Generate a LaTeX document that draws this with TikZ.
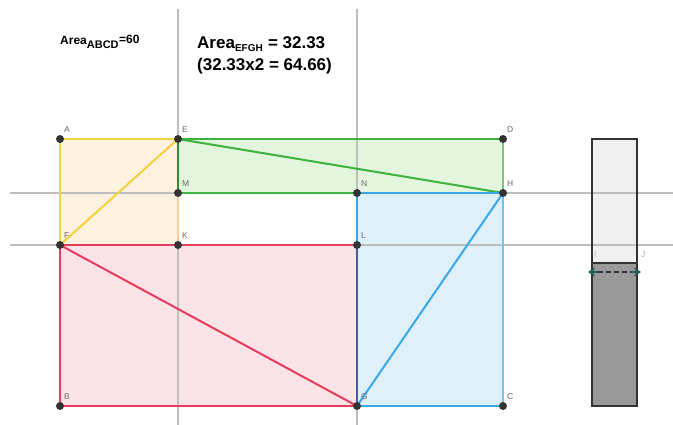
\documentclass[tikz,border=0pt]{standalone}
\usepackage{fontspec}
\setmainfont{Liberation Sans}
\usetikzlibrary{arrows.meta}
\definecolor{yel}{HTML}{F2D23C}
\definecolor{yelfill}{HTML}{FDF1E0}
\definecolor{grn}{HTML}{3DB23D}
\definecolor{grnfill}{HTML}{E3F5DD}
\definecolor{rd}{HTML}{E63C5F}
\definecolor{rdfill}{HTML}{FBE3E8}
\definecolor{bl}{HTML}{3AA8E6}
\definecolor{blfill}{HTML}{DFF0FB}
\definecolor{lg}{HTML}{4A5A9A}
\definecolor{axis}{HTML}{BDBDBD}
\definecolor{ptc}{HTML}{333333}
\definecolor{lbl}{HTML}{6A6A6A}
\definecolor{arr}{HTML}{1F5F55}
\tikzset{
  pt/.style={circle,fill=ptc,inner sep=0pt,minimum size=8pt},
  plbl/.style={font=\fontsize{8.5}{9}\selectfont,text=lbl,anchor=south west,inner sep=1pt},
  axisline/.style={axis,line width=1.6pt},
  edge/.style={line width=2pt},
  tip/.style={arr,line width=1.5pt,-{Stealth[length=7pt,width=9pt]}},
}
\begin{document}
\begin{tikzpicture}[x=1pt,y=-1pt]
\useasboundingbox (0,0) rectangle (673,425);
\coordinate (A) at (60,139);
\coordinate (E) at (178,139);
\coordinate (D) at (503,139);
\coordinate (M) at (178,193);
\coordinate (N) at (357,193);
\coordinate (H) at (503,193);
\coordinate (F) at (60,245);
\coordinate (K) at (178,245);
\coordinate (L) at (357,245);
\coordinate (B) at (60,406);
\coordinate (G) at (357,406);
\coordinate (C) at (503,406);
% fills
\fill[yelfill] (A) rectangle (K);
\fill[grnfill] (E) rectangle (H);
\fill[rdfill] (F) rectangle (G);
\fill[blfill] (N) rectangle (C);
% right bar
\fill[black!6] (592,139) rectangle (637,263);
\fill[black!40] (592,263) rectangle (637,406);
% axis lines
\coordinate (v1t) at (178,9); \coordinate (v1b) at (178,425);
\coordinate (v2t) at (357,9); \coordinate (v2b) at (357,425);
\coordinate (h1l) at (10,193); \coordinate (h1r) at (673,193);
\coordinate (h2l) at (10,245); \coordinate (h2r) at (673,245);
\draw[axisline] (v1t) -- (v1b);
\draw[axisline] (v2t) -- (v2b);
\draw[axisline] (h1l) -- (h1r);
\draw[axisline] (h2l) -- (h2r);
% bar outline
\draw[ptc,line width=1.8pt] (592,139) rectangle (637,406);
\draw[ptc,line width=1.4pt] (592,263) -- (637,263);
\coordinate (Iarr) at (592,272); \coordinate (Jarr) at (637,272);
\draw[ptc,line width=2.4pt,dash pattern=on 5pt off 3pt,shorten <=6pt,shorten >=6pt] (Iarr) -- (Jarr);
\draw[tip] ([xshift=6pt]Iarr) -- ([xshift=-4pt]Iarr);
\draw[tip] ([xshift=-6pt]Jarr) -- ([xshift=4pt]Jarr);
\node[plbl,text=lbl!50] at (593,259) {I};
\node[plbl,text=lbl!50] at (640,259) {J};
% yellow region
\draw[yel,edge] (A) -- (E);
\draw[yel,edge] (A) -- (F);
\draw[yel,edge] (F) -- (E);
\draw[orange!40,edge] (M) -- (K);
% green
\draw[grn,edge] (E) -- (D);
\draw[grn!70,line width=1.3pt] (D) -- (H);
\draw[grn!80!black,edge] (E) -- (M);
\draw[grn,edge] (M) -- (N);
\draw[grn,edge] (E) -- (H);
% red
\draw[rd,edge] (F) -- (L);
\draw[rd,edge] (F) -- (B);
\draw[rd,edge] (B) -- (G);
\draw[rd,edge] (F) -- (G);
% blue
\draw[bl,edge] (N) -- (H);
\draw[bl!70,line width=1.3pt] (H) -- (C);
\draw[bl,edge] (G) -- (C);
\draw[bl,edge] (N) -- (L);
\draw[lg,edge] (L) -- (G);
\draw[bl,edge] (G) -- (H);
% points
\foreach \p in {A,E,D,M,N,H,F,K,L,B,G,C}{\node[pt] (p\p) at (\p) {};}
\foreach \p in {A,E,D,M,N,H,F,K,L,B,G,C}{
  \node[plbl] at ([shift={(3,-5)}]\p) {\p};}
% texts
\node[anchor=base west,inner sep=0pt,font=\bfseries\fontsize{12}{14}\selectfont] (t1) at (60,45) {Area\textsubscript{\fontsize{11}{11}\selectfont ABCD}\raisebox{0.3ex}{=60}};
\node[anchor=base west,inner sep=0pt,font=\bfseries\fontsize{17}{20}\selectfont] (t2) at (197,49) {Area\textsubscript{\fontsize{10}{10}\selectfont EFGH} = 32.33};
\node[anchor=base west,inner sep=0pt,font=\bfseries\fontsize{17}{20}\selectfont] (t3) at (197,71) {(32.33x2 = 64.66)};
\end{tikzpicture}
\end{document}
